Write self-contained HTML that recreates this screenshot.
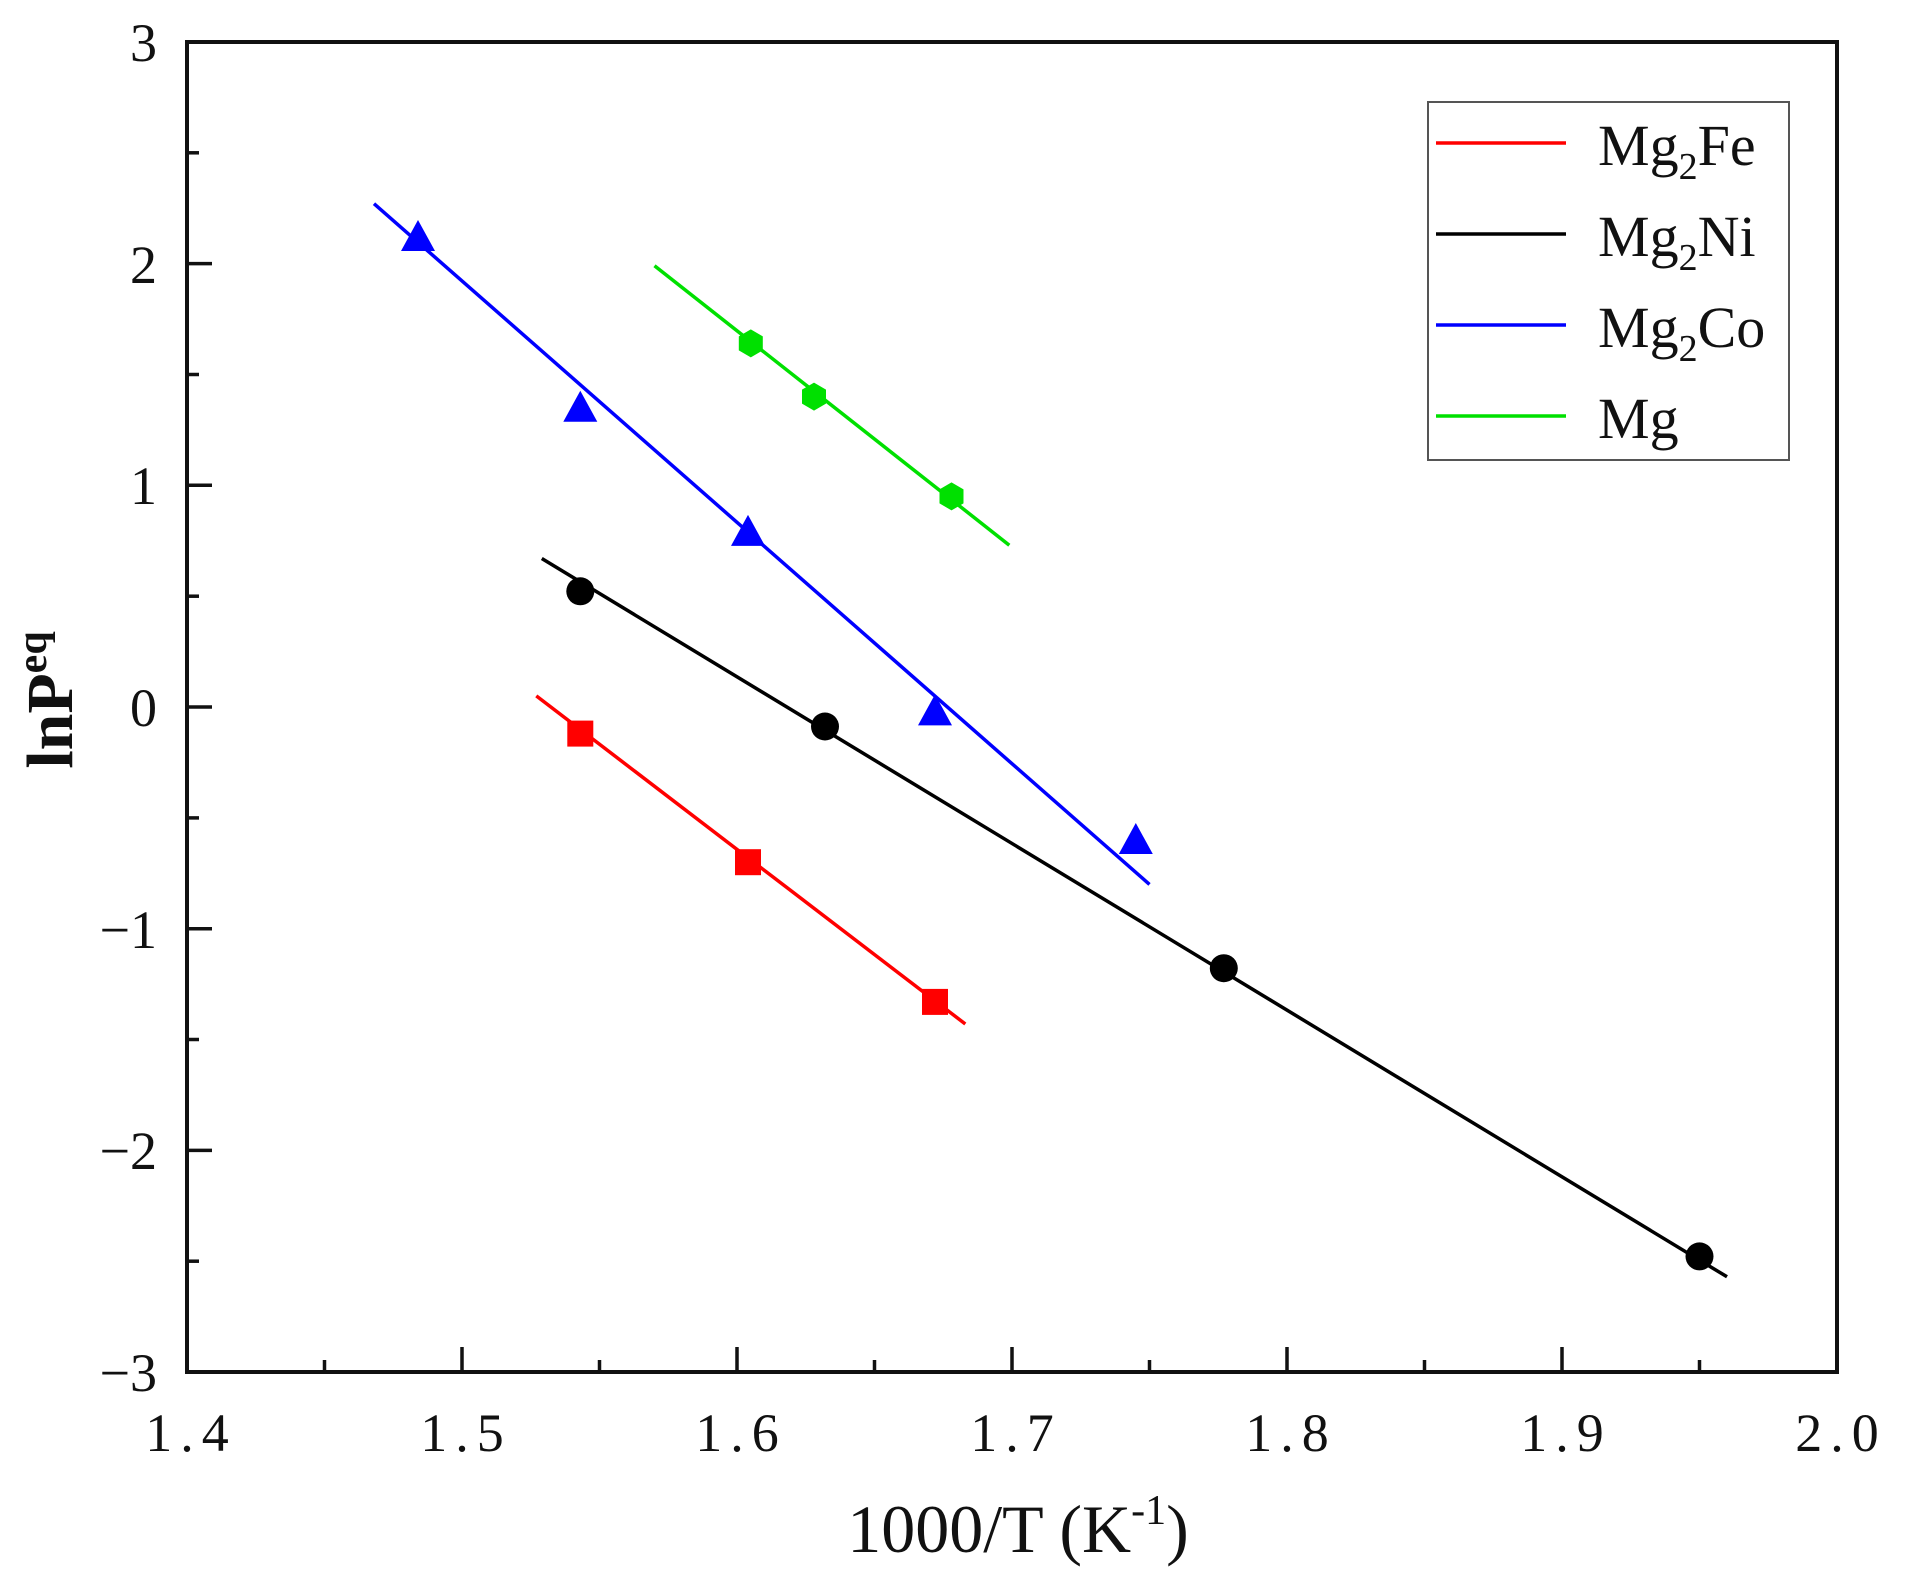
<!DOCTYPE html>
<html><head><meta charset="utf-8"><style>
html,body{margin:0;padding:0;background:#fff;}
svg{display:block;}
text{font-family:"Liberation Serif",serif;}
</style></head><body>
<svg width="1906" height="1582" viewBox="0 0 1906 1582" xmlns="http://www.w3.org/2000/svg">
<rect width="1906" height="1582" fill="#fff"/>
<rect x="187" y="42" width="1650" height="1330" fill="none" stroke="#111" stroke-width="4"/>
<g stroke="#111" stroke-width="3.5">
<line x1="324.5" y1="1372" x2="324.5" y2="1360"/>
<line x1="462" y1="1372" x2="462" y2="1347"/>
<line x1="599.5" y1="1372" x2="599.5" y2="1360"/>
<line x1="737" y1="1372" x2="737" y2="1347"/>
<line x1="874.5" y1="1372" x2="874.5" y2="1360"/>
<line x1="1012" y1="1372" x2="1012" y2="1347"/>
<line x1="1149.5" y1="1372" x2="1149.5" y2="1360"/>
<line x1="1287" y1="1372" x2="1287" y2="1347"/>
<line x1="1424.5" y1="1372" x2="1424.5" y2="1360"/>
<line x1="1562" y1="1372" x2="1562" y2="1347"/>
<line x1="1699.5" y1="1372" x2="1699.5" y2="1360"/>
<line x1="187" y1="152.8" x2="199" y2="152.8"/>
<line x1="187" y1="263.6" x2="212" y2="263.6"/>
<line x1="187" y1="374.5" x2="199" y2="374.5"/>
<line x1="187" y1="485.3" x2="212" y2="485.3"/>
<line x1="187" y1="596.2" x2="199" y2="596.2"/>
<line x1="187" y1="707" x2="212" y2="707"/>
<line x1="187" y1="817.9" x2="199" y2="817.9"/>
<line x1="187" y1="928.7" x2="212" y2="928.7"/>
<line x1="187" y1="1039.5" x2="199" y2="1039.5"/>
<line x1="187" y1="1150.4" x2="212" y2="1150.4"/>
<line x1="187" y1="1261.2" x2="199" y2="1261.2"/>
</g>
<g font-size="54" text-anchor="end" fill="#111">
<text x="157" y="61">3</text>
<text x="157" y="283">2</text>
<text x="157" y="504">1</text>
<text x="157" y="726">0</text>
<text x="157" y="948">−1</text>
<text x="157" y="1169">−2</text>
<text x="157" y="1391">−3</text>
</g>
<g font-size="54" text-anchor="middle" fill="#111" letter-spacing="8">
<text x="191" y="1451">1.4</text>
<text x="466" y="1451">1.5</text>
<text x="741" y="1451">1.6</text>
<text x="1016" y="1451">1.7</text>
<text x="1291" y="1451">1.8</text>
<text x="1566" y="1451">1.9</text>
<text x="1841" y="1451">2.0</text>
</g>
<text x="1018" y="1552" font-size="68" text-anchor="middle" fill="#111">1000/T (K<tspan font-size="42" dy="-28">-1</tspan><tspan dy="28">)</tspan></text>
<text transform="translate(72,700) rotate(-90)" font-size="66" font-weight="bold" text-anchor="middle" fill="#111">lnP<tspan font-size="42" dy="-26">eq</tspan></text>
<g stroke-width="3.5" fill="none">
<line x1="536.3" y1="695.9" x2="965.3" y2="1024" stroke="#ff0000"/>
<line x1="541.8" y1="558.5" x2="1727" y2="1276.8" stroke="#000"/>
<line x1="374" y1="203.7" x2="1149.5" y2="884.4" stroke="#0000ff"/>
<line x1="654.5" y1="265.8" x2="1009.3" y2="545.2" stroke="#00e000"/>
</g>
<g fill="#ff0000">
<rect x="567.3" y="720.6" width="26" height="26"/>
<rect x="735" y="849.2" width="26" height="26"/>
<rect x="922" y="988.9" width="26" height="26"/>
</g>
<g fill="#000">
<circle cx="580.3" cy="591.3" r="14"/>
<circle cx="825" cy="726.5" r="14"/>
<circle cx="1223.8" cy="968.2" r="14"/>
<circle cx="1699.5" cy="1256.4" r="14"/>
</g>
<g fill="#0000ff">
<polygon points="418,220 401,251 435,251"/>
<polygon points="580.3,390.7 563.3,421.7 597.3,421.7"/>
<polygon points="748,514.9 731,545.9 765,545.9"/>
<polygon points="935,694.4 918,725.4 952,725.4"/>
<polygon points="1135.8,823 1118.8,854 1152.8,854"/>
</g>
<g fill="#00e000">
<polygon points="750.8,329.4 762.8,336.4 762.8,350.4 750.8,357.4 738.8,350.4 738.8,336.4"/>
<polygon points="814,382.6 826,389.6 826,403.6 814,410.6 802,403.6 802,389.6"/>
<polygon points="951.5,482.4 963.5,489.4 963.5,503.4 951.5,510.4 939.5,503.4 939.5,489.4"/>
</g>
<rect x="1428" y="102" width="361" height="358" fill="#fff" stroke="#555" stroke-width="2"/>
<g stroke-width="3.5">
<line x1="1436" y1="143" x2="1566" y2="143" stroke="#ff0000"/>
<line x1="1436" y1="234" x2="1566" y2="234" stroke="#000"/>
<line x1="1436" y1="325" x2="1566" y2="325" stroke="#0000ff"/>
<line x1="1436" y1="416" x2="1566" y2="416" stroke="#00e000"/>
</g>
<g font-size="58" fill="#111">
<text x="1598" y="165">Mg<tspan font-size="38" dy="14">2</tspan><tspan dy="-14">Fe</tspan></text>
<text x="1598" y="256">Mg<tspan font-size="38" dy="14">2</tspan><tspan dy="-14">Ni</tspan></text>
<text x="1598" y="347">Mg<tspan font-size="38" dy="14">2</tspan><tspan dy="-14">Co</tspan></text>
<text x="1598" y="438">Mg</text>
</g>
</svg>
</body></html>
